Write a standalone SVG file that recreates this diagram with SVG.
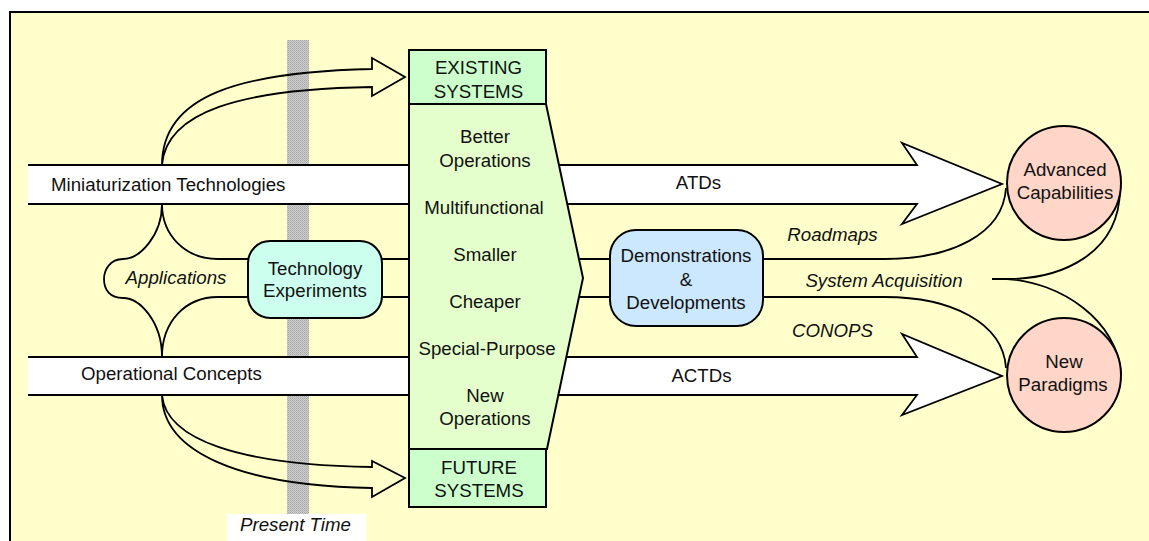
<svg xmlns="http://www.w3.org/2000/svg" width="1149" height="541" viewBox="0 0 1149 541">
<style>
text{font-family:"Liberation Sans",Arial,sans-serif;font-size:18.7px;fill:#111;}
.c{text-anchor:middle;}
.i{font-style:italic;}
.ln{fill:none;stroke:#000;stroke-width:1.8;}
.band{fill:#fff;stroke:#000;stroke-width:1.8;}
.box{stroke:#000;stroke-width:2;}
</style>
<defs>
<pattern id="dots" width="2" height="2" patternUnits="userSpaceOnUse">
<rect width="2" height="2" fill="#cfcfcf"/>
<rect width="1" height="1" fill="#a6a6a6"/>
<rect x="1" y="1" width="1" height="1" fill="#b4b4b4"/>
</pattern>
</defs>
<rect width="1149" height="541" fill="#fff"/>
<rect x="10" y="12" width="1139" height="529" fill="#FFFFCC"/>
<path d="M10,541 L10,12 L1149,12" fill="none" stroke="#000" stroke-width="2"/>
<rect id="present-bar" x="287" y="40" width="22" height="474" fill="url(#dots)"/>
<g id="connectors">
<path class="band" d="M28,165 L917,165 L902,143 L1002,184 L902,224 L917,204 L28,204"/>
<path class="band" d="M28,357 L917,357 L902,334 L1002,376 L902,415 L917,395 L28,395"/>
<path class="ln" d="M162,165 C162,95 240,72 372,69 L372,58 L405,77 L372,96 L372,87 C240,89 166,112 162,165"/>
<path class="ln" d="M162,395 C162,452 240,486 372,488 L372,497 L405,478 L372,461 L372,467 C240,465 166,440 162,395"/>
<path class="ln" d="M162,204 C162,235 185,259 218,259 L248,259 M382,259 L409,259 M579,259 L610,259 M763,259 L885,259 C950,259 1003,235 1006,188"/>
<path class="ln" d="M162,357 C162,322 185,297 218,297 L248,297 M382,297 L409,297 M579,297 L610,297 M763,297 L885,297 C950,297 1003,322 1006,368"/>
<path class="ln" d="M162,204 C162,235 140,259 123,259 C110,259 104,270 104,279 C104,290 110,298 123,298 C140,298 162,322 162,357"/>
<path class="ln" d="M992,279 L1007,279 C1060,279 1119,255 1120,190 M1007,279 C1060,282 1118,320 1121,375"/>
</g>
<g id="chevron">
<polygon class="box" points="409,104 546,104 583,278 547,449 409,449" fill="#E5FFCC"/>
<text class="c" x="485" y="143">Better</text>
<text class="c" x="485" y="167">Operations</text>
<text class="c" x="484" y="214">Multifunctional</text>
<text class="c" x="485" y="261">Smaller</text>
<text class="c" x="485" y="308">Cheaper</text>
<text class="c" x="487" y="355">Special-Purpose</text>
<text class="c" x="485" y="402">New</text>
<text class="c" x="485" y="425">Operations</text>
</g>
<g id="existing-systems">
<rect class="box" x="409" y="50" width="137" height="54" fill="#CCFFCC"/>
<text class="c" x="478.5" y="74">EXISTING</text>
<text class="c" x="478.5" y="97.5">SYSTEMS</text>
</g>
<g id="future-systems">
<rect class="box" x="409" y="449" width="137" height="58" fill="#CCFFCC"/>
<text class="c" x="479" y="474">FUTURE</text>
<text class="c" x="479" y="497">SYSTEMS</text>
</g>
<g id="technology-experiments">
<rect class="box" x="248" y="241" width="134" height="77" rx="22" fill="#CCFFEE"/>
<text class="c" x="315" y="275">Technology</text>
<text class="c" x="315" y="297">Experiments</text>
</g>
<g id="demonstrations">
<rect class="box" x="610" y="230" width="153" height="96" rx="26" fill="#CCE8FF"/>
<text class="c" x="686" y="262">Demonstrations</text>
<text class="c" x="686" y="286">&amp;</text>
<text class="c" x="686" y="309">Developments</text>
</g>
<g id="advanced-capabilities">
<circle class="box" cx="1064" cy="183" r="57" fill="#FFD6C8"/>
<text class="c" x="1065" y="176">Advanced</text>
<text class="c" x="1065" y="199">Capabilities</text>
</g>
<g id="new-paradigms">
<circle class="box" cx="1064" cy="375" r="57" fill="#FFD6C8"/>
<text class="c" x="1064" y="368">New</text>
<text class="c" x="1063" y="391">Paradigms</text>
</g>
<g id="labels">
<text x="51" y="191">Miniaturization Technologies</text>
<text x="81" y="380">Operational Concepts</text>
<text class="c" x="698.5" y="189">ATDs</text>
<text class="c" x="701.5" y="382">ACTDs</text>
<text class="c i" x="176" y="284">Applications</text>
<text class="c i" x="832.5" y="241">Roadmaps</text>
<text class="c i" x="884" y="287">System Acquisition</text>
<text class="c i" x="832.5" y="337">CONOPS</text>
<rect x="227" y="514" width="139" height="30" fill="#fff"/>
<text class="c i" x="295.5" y="531">Present Time</text>
</g>
</svg>
